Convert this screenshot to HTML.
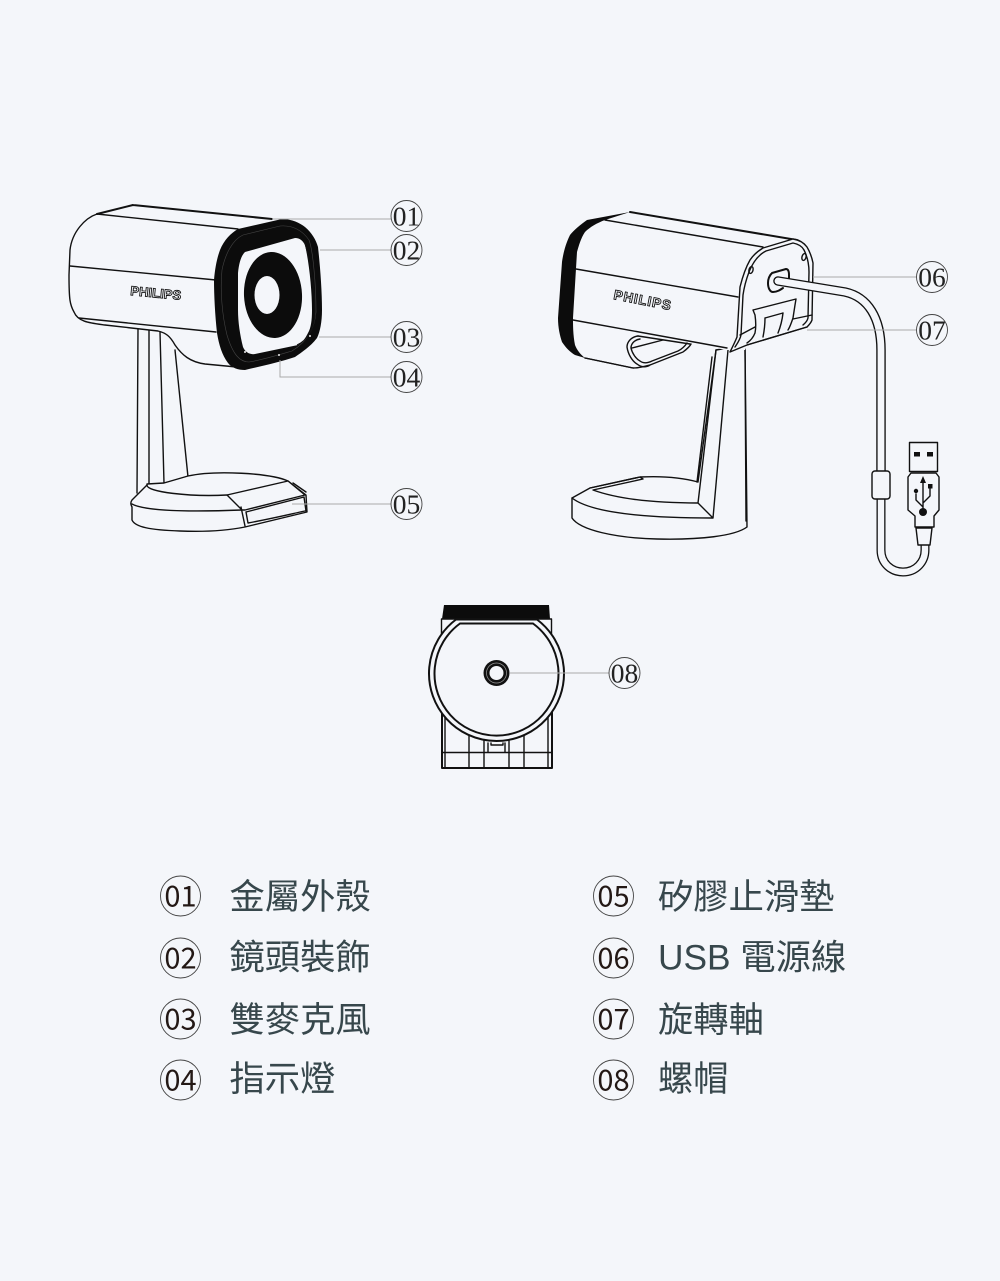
<!DOCTYPE html>
<html><head><meta charset="utf-8"><style>
html,body{margin:0;padding:0;background:#f4f6fa}
svg{display:block}
.l{fill:none;stroke:#111;stroke-width:1.4;stroke-linejoin:round;stroke-linecap:round}
.t{stroke-width:2}
.f{fill:#f4f6fa;stroke:#111;stroke-width:1.4;stroke-linejoin:round}
.b{fill:#f4f6fa;stroke:none}
.g{fill:none;stroke:#aaa;stroke-width:1}
.n{font-family:"Liberation Serif",serif;font-size:27.500px;fill:#222;text-anchor:middle}
.c{fill:#f4f6fa;stroke:#444;stroke-width:.9}
.m{font-family:"Noto Sans CJK TC","Liberation Sans",sans-serif;font-size:29px;fill:#231815;text-anchor:middle;font-weight:400}
.z{font-family:"Liberation Sans","Noto Sans CJK TC",sans-serif;font-size:35.300px;fill:#37474c}
.ph{font-family:"Liberation Sans",sans-serif;font-weight:bold;fill:#f4f6fa;stroke:#111;stroke-width:.9}
</style></head><body>
<svg width="1000" height="1281" viewBox="0 0 1000 1281" xmlns="http://www.w3.org/2000/svg">
<rect width="1000" height="1281" fill="#f4f6fa"/>

<!-- LEFT CAMERA stand -->
<path class="l" d="M138 329L137 493M149 330L149 485M160 332L164 483M175 350L188 477L164 483"/>
<!-- base -->
<path class="f" d="M147 485L132 500C130 503 131 505 132 507L132 520C135 527 150 530 180 531C205 532 225 531 245 527L307 512L306 495L288 481C270 473 215 470 188 476L164 483L147 484Z"/>
<path class="l" d="M147 485C146 492 190 497 227 495M132 504C145 511 190 512 242 510"/>
<path class="f" d="M227 495L288 481L305 495L245 510L242 510Z"/>
<path class="l" d="M241 507L245 526M246 512L304 497L306 511M246 512L248 523C275 518 295 513 305 511M293 483L306 492"/>
<!-- body -->
<path class="b" d="M133 205L270 219L238 229L215 290L218 340L247 368L205 364C190 362 182 355 175 345C170 336 166 333 158 331L105 325C90 323 78 322 74 312C70 305 69 300 69 275L70 250C72 232 85 218 97 214Z"/>
<path class="l" d="M247 368L205 364C190 362 182 355 175 345C170 336 166 333 158 331L105 325C90 323 78 322 74 312C70 305 69 300 69 275L70 250C72 232 85 218 97 214"/>
<path class="l t" d="M133 205L272 219M97 214L133 205"/>
<path class="l" d="M97 214L238 229M70 266L216 280M79 318L216 332"/>
<text class="ph" font-size="13" transform="translate(130 295) rotate(5.500)" textLength="51">PHILIPS</text>
<!-- front face -->
<path d="M238 229L282 219C292 219 300 223 305 227C312 233 316 240 318 247C320 265 322 290 322 310C322 322 320 332 317 338C310 347 302 352 295 357C280 362 262 366 245 370C238 370 232 368 228 363C222 355 219 345 217 333C215 315 214 295 214 280C215 268 217 258 220 250C224 240 231 233 238 229Z" fill="#0c0c0c"/>
<path fill="none" stroke="#444" stroke-width=".6" d="M243 235L280 226C292 225 302 230 309 240C313 250 316 285 316 312C315 325 310 340 292 351C275 356 262 360 249 362C240 362 233 355 227 335C222 315 220 290 222 270C225 255 232 240 243 235Z"/>
<path fill="#f4f6fa" d="M245 252L295 238C300 238 303 241 305 245C309 262 312 290 312 310C312 320 311 328 308 333C305 339 302 343 298 345L255 354C250 355 245 352 243 347C240 335 238 322 238 310L238 273C239 263 241 256 245 252Z"/>
<path fill="none" stroke="#111" stroke-width="1" d="M304 241C310 258 315 290 315 315C314 328 308 340 297 345"/>
<ellipse cx="273" cy="295" rx="29" ry="43" fill="#0c0c0c" transform="rotate(-3 273 295)"/>
<ellipse cx="267" cy="295" rx="12.500" ry="19" fill="#f4f6fa"/>
<circle cx="279" cy="355" r="1" fill="#eee"/><circle cx="310" cy="336" r="1" fill="#eee"/><circle cx="245" cy="352" r="1" fill="#eee"/>

<!-- RIGHT CAMERA stand & base -->
<path class="f" d="M590 488L572 498V518C580 530 615 538 657 539C700 540 735 536 747 527L745 345L716 350L698 482C680 477 660 476 640 477Z"/>
<path class="l" d="M590 488L640 477L643 479L593 490C615 498 650 503 698 503M572 498C590 512 640 518 713 518M698 503L713 518M716 350L698 503M712 357L697 482M728 350L713 518"/>
<path class="l" d="M745 345L746 521"/>
<!-- body -->
<path class="b" d="M630 212L797 240L745 350L727 350L690 344L683 352L650 365L633 368L585 358L575 345L573 318L577 252L585 232L605 220Z"/>
<path d="M630 212L587 220C580 225 574 230 570 235C565 245 563 255 562 262L558 318C558 328 560 336 562 342C566 348 570 352 575 355L585 358C580 354 577 350 575 345C573 335 573 325 573 318L577 252C579 245 581 238 585 232C590 227 597 223 605 220Z" fill="#0c0c0c"/>
<path class="l t" d="M630 212L797 240"/>
<path class="l" d="M605 220L763 247M576 269L738 297M573 320L727 348M585 358L633 368"/>
<!-- loop handle -->
<path class="l" d="M585 358L633 368C640 368 645 366 650 365L683 352C687 349 690 346 691 344M638 336C631 337 627 342 627 347C628 354 632 361 637 364C642 368 647 367 650 365"/>
<path class="l" d="M640 339C634 340 631 344 631 348C632 353 636 359 640 361C644 364 648 363 652 361L678 351C682 349 685 346 687 343M632 348L663 340M638 336L690 344"/>
<text class="ph" font-size="13.500" transform="translate(613 299) rotate(11)" textLength="58">PHILIPS</text>
<!-- back panel -->
<path class="f" d="M763 248L793 239C800 240 804 243 807 247C810 252 812 258 813 263L812 320C811 323 809 325 807 327L747 345L730 352C733 346 735 342 737 337L740 287C743 275 746 267 750 260C754 254 758 251 763 248Z"/>
<path class="l" d="M766 251L793 243C798 244 802 246 804 250C808 258 809 265 809 272L808 318C807 322 805 323 803 325M766 251C758 255 753 262 749 272C746 280 744 288 743 295L741 335C740 340 737 344 735 347"/>
<ellipse cx="751" cy="270" rx="2" ry="3.500" class="l" transform="rotate(15 751 270)"/>
<ellipse cx="804" cy="257" rx="2" ry="3.500" class="l" transform="rotate(15 804 257)"/>
<path class="l t" d="M772 273L786 269C788 269 789 271 789 275V280M772 273C769 276 768 279 768 283C768 288 770 292 773 292C777 292 780 290 783 288"/>
<path class="l" d="M753 310L796 299L795 305L793 318C791 324 790 327 788 330M753 310L755 315C756 322 756 328 755 333C753 338 750 341 747 343M765 318L783 313M765 318C765 326 764 332 763 337M783 313C782 322 780 328 778 333M793 319L812 315M740 335L755 327M747 345L807 327"/>
<!-- cable -->
<path fill="none" stroke="#111" stroke-width="9.500" stroke-linecap="round" d="M778 281L845 292C868 297 881 318 881 350V472"/>
<path fill="none" stroke="#f4f6fa" stroke-width="6.800" stroke-linecap="round" d="M778 281L845 292C868 297 881 318 881 350V473"/>
<path fill="none" stroke="#111" stroke-width="9" d="M881 498V550C881 564 892 572 903 572C916 572 925 562 925 550V544"/>
<path fill="none" stroke="#f4f6fa" stroke-width="6.400" d="M881 497V550C881 564 892 572 903 572C916 572 925 562 925 550V543"/>
<rect x="872" y="471" width="18" height="28" rx="3" class="f"/>
<!-- USB -->
<rect x="909.500" y="442.500" width="28" height="29" class="f"/>
<rect x="914" y="452" width="6" height="4.500" fill="#111"/><rect x="927" y="452" width="6" height="4.500" fill="#111"/>
<path class="f" d="M916 528L918 545H930L932 528Z"/>
<path class="f" d="M908 477L911 473H936L939 477V510L934 516V527H915V516L908 510Z"/>
<path class="l" d="M923 482V513M923 507L916 500V494M923 503L930 496V488" stroke-width="1.600"/>
<path d="M923 476L920 483H926Z" fill="#111"/><circle cx="916" cy="491" r="2.200" fill="#111"/><rect x="928" y="484" width="4.500" height="4.500" fill="#111"/><circle cx="923" cy="512" r="4" fill="#111"/>

<!-- BOTTOM VIEW -->
<path d="M444 605H549L550 619H442Z" fill="#0c0c0c"/>
<path class="l" d="M441.500 619V640M551.500 619V640M441.500 619H551.500"/>
<path class="l t" d="M442 710V768H552V710"/>
<path class="l" d="M445 715V768M548 715V768M469 735V768M484 738V768M509 738V768M524 735V768M442 752.500H552M488 743V752M505 743V752M491 745H503M491 743V745M503 743V745"/>
<path fill="#f4f6fa" stroke="#111" stroke-width="2" d="M456 619.500H537A67.500 67.500 0 1 1 456 619.500Z"/>
<path fill="#f4f6fa" stroke="#111" stroke-width="2" d="M460 623.500H533A62 62 0 1 1 460 623.500Z"/>
<circle cx="496.500" cy="673" r="13" fill="#111"/>
<circle cx="496.500" cy="673" r="10" fill="none" stroke="#999" stroke-width=".7"/>
<circle cx="496.500" cy="673" r="7" fill="#f4f6fa"/>

<!-- leader lines -->
<path class="g" d="M272 219H392M320 250H392M319 337H392M280 360V377H392M292 504H392M813 277H918M807 330H918M510 673H610"/>

<!-- callouts -->
<circle class="c" cx="406.500" cy="216" r="15.500"/><text class="n" x="406.500" y="225.500">01</text>
<circle class="c" cx="406.500" cy="250" r="15.500"/><text class="n" x="406.500" y="259.500">02</text>
<circle class="c" cx="406.500" cy="337" r="15.500"/><text class="n" x="406.500" y="346.500">03</text>
<circle class="c" cx="406.500" cy="377" r="15.500"/><text class="n" x="406.500" y="386.500">04</text>
<circle class="c" cx="406.500" cy="504" r="15.500"/><text class="n" x="406.500" y="513.500">05</text>
<circle class="c" cx="932" cy="277" r="15.500"/><text class="n" x="932" y="286.500">06</text>
<circle class="c" cx="932" cy="330" r="15.500"/><text class="n" x="932" y="339.500">07</text>
<circle class="c" cx="624.500" cy="673" r="15.500"/><text class="n" x="624.500" y="682.500">08</text>

<!-- legend -->
<circle class="c" cx="180.500" cy="896" r="20"/><text class="m" x="180.500" y="906.500">01</text>
<circle class="c" cx="180.500" cy="958" r="20"/><text class="m" x="180.500" y="968.500">02</text>
<circle class="c" cx="180.500" cy="1019" r="20"/><text class="m" x="180.500" y="1029.500">03</text>
<circle class="c" cx="180.500" cy="1080" r="20"/><text class="m" x="180.500" y="1090.500">04</text>
<circle class="c" cx="613.500" cy="896" r="20"/><text class="m" x="613.500" y="906.500">05</text>
<circle class="c" cx="613.500" cy="958" r="20"/><text class="m" x="613.500" y="968.500">06</text>
<circle class="c" cx="613.500" cy="1019" r="20"/><text class="m" x="613.500" y="1029.500">07</text>
<circle class="c" cx="613.500" cy="1080" r="20"/><text class="m" x="613.500" y="1090.500">08</text>
<text class="z" x="229.500" y="909">金屬外殼</text>
<text class="z" x="229.500" y="969.500">鏡頭裝飾</text>
<text class="z" x="229.500" y="1032">雙麥克風</text>
<text class="z" x="229.500" y="1091">指示燈</text>
<text class="z" x="658" y="909">矽膠止滑墊</text>
<text class="z" x="658" y="969.500">USB 電源線</text>
<text class="z" x="658" y="1032">旋轉軸</text>
<text class="z" x="658" y="1091">螺帽</text>
</svg>
</body></html>
